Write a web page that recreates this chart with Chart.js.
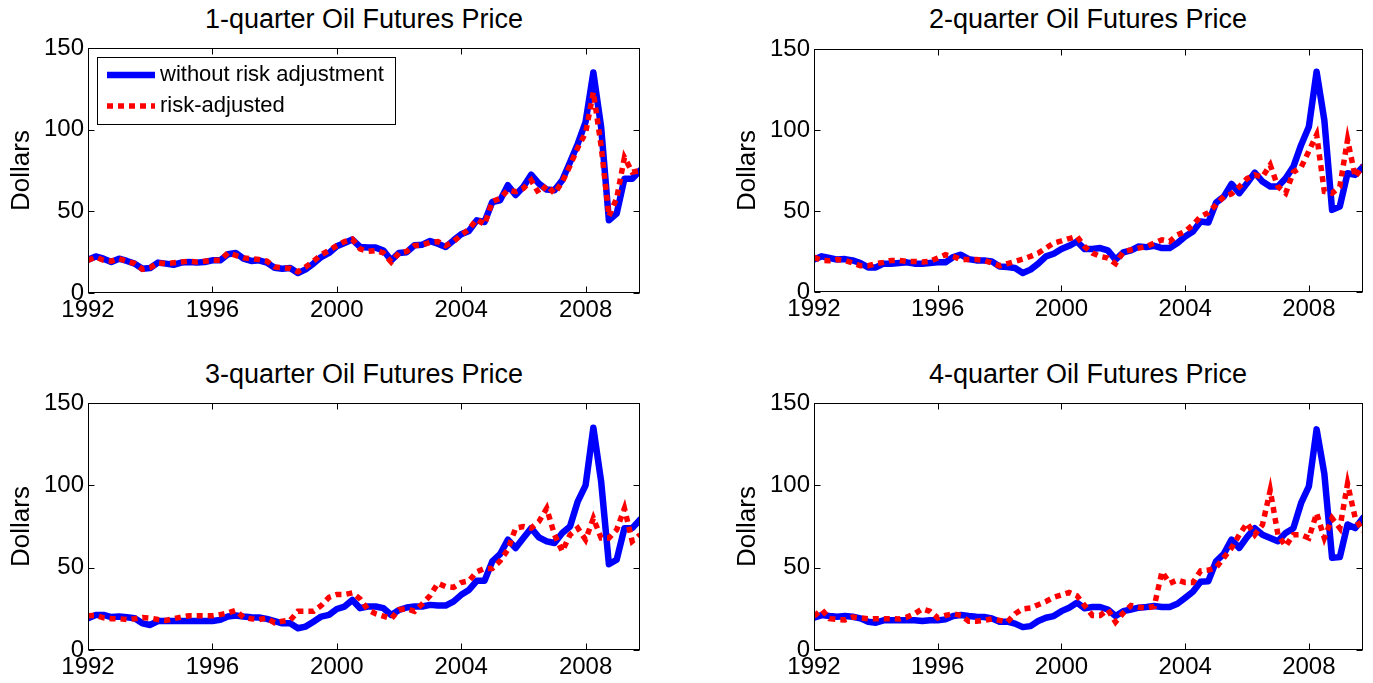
<!DOCTYPE html>
<html>
<head>
<meta charset="utf-8">
<script src="https://cdn.jsdelivr.net/npm/chart.js@4.4.1/dist/chart.umd.min.js"></script>
<style>
  html, body { margin: 0; padding: 0; background: #fff; }
  body { width: 1373px; height: 683px; position: relative; overflow: hidden; }
  canvas { position: absolute; }
  .ttl { position: absolute; font-family: 'Liberation Sans', Arial, sans-serif; font-size: 27px; line-height: 27px; color: #000; white-space: nowrap; text-align: center; width: 600px; }
</style>
</head>
<body>
<div class="ttl" id="t1" style="left:64px; top:6px;">1-quarter Oil Futures Price</div>
<div class="ttl" id="t2" style="left:788px; top:6px;">2-quarter Oil Futures Price</div>
<div class="ttl" id="t3" style="left:64px; top:361px;">3-quarter Oil Futures Price</div>
<div class="ttl" id="t4" style="left:788px; top:361px;">4-quarter Oil Futures Price</div>
<canvas id="c1" width="686" height="340" style="left:0px; top:0px;"></canvas>
<canvas id="c2" width="647" height="340" style="left:726px; top:0px;"></canvas>
<canvas id="c3" width="686" height="328" style="left:0px; top:355px;"></canvas>
<canvas id="c4" width="647" height="328" style="left:726px; top:355px;"></canvas>
<script>
// ---------- data ----------
const quarters = [
 '1992Q1','1992Q2','1992Q3','1992Q4','1993Q1','1993Q2','1993Q3','1993Q4',
 '1994Q1','1994Q2','1994Q3','1994Q4','1995Q1','1995Q2','1995Q3','1995Q4',
 '1996Q1','1996Q2','1996Q3','1996Q4','1997Q1','1997Q2','1997Q3','1997Q4',
 '1998Q1','1998Q2','1998Q3','1998Q4','1999Q1','1999Q2','1999Q3','1999Q4',
 '2000Q1','2000Q2','2000Q3','2000Q4','2001Q1','2001Q2','2001Q3','2001Q4',
 '2002Q1','2002Q2','2002Q3','2002Q4','2003Q1','2003Q2','2003Q3','2003Q4',
 '2004Q1','2004Q2','2004Q3','2004Q4','2005Q1','2005Q2','2005Q3','2005Q4',
 '2006Q1','2006Q2','2006Q3','2006Q4','2007Q1','2007Q2','2007Q3','2007Q4',
 '2008Q1','2008Q2','2008Q3','2008Q4','2009Q1','2009Q2','2009Q3','2009Q4'
];
const tickYears = ['1992','1996','2000','2004','2008'];
const yTicks = [0, 50, 100, 150];

const futures1 = [20.4,22.4,21,19,21,19.6,18,14.9,15.3,18.6,18,17.3,18.6,19,18.6,19,
 20,20,23.7,24.5,21,19.6,20,18.6,15.5,14.9,15.3,12.2,14.5,18,22,24.5,
 28.6,30.6,32.7,28.2,27.8,27.8,26,20,24.5,25,29.2,29.6,31.8,30.2,28.2,32.2,
 36,38,44.5,43.5,55.7,56.7,66,60,65,72.4,67,63.3,62.9,69,80,91.4,104.7,135,101.6,44.5,48.6,70,70,75];
const riskAdj1 = [20,22,20,19.5,21,19.5,18,14.5,15.5,18.5,18,18.5,19,19.5,19,19.5,
 20,20,24.5,23,21.5,21,20.5,19.5,16,15.5,15,13,16,19.5,23.5,26,
 29,31.5,33,27,25.5,26,24.5,19,24.5,25.5,29,29.5,31,31.5,29,31.5,
 35.5,39,45,42,56,58,63,62,64,69,61,66,61,68,78,89,98,123,90,47,58,83,74,75];

const futures2 = [20,22,21,20,20.3,19.5,17.9,15.2,15.2,17.5,17.5,17.9,18.3,17.5,17.5,17.9,
 18.3,18.3,21.6,23,20.3,19.5,19.5,18.9,15.8,15.4,14.8,11.7,13.8,17.5,22,23.6,
 26.5,28.5,31.2,26.5,26.5,27.1,25.7,20,24.4,25.7,28.1,27.7,28.5,27.1,27.1,30.2,
 34.3,37.4,43.5,42.9,55.2,58.9,66.7,61,67.1,73.7,68.2,65.1,65.1,70.2,77.4,90.8,102,136,106,50.7,52.8,73.3,72.3,77.4];
const riskAdj2 = [21.4,19.5,19.3,20,19.5,17.9,16.2,16.2,17.5,18.3,19.5,19.5,18.9,18.9,18.5,18.9,
 21,23,22,20,20,20,19.5,17.9,16.2,17.5,18.9,20.3,22,24,27.1,30.2,
 31.5,33,34.3,28,24,22,21,17.5,24.8,26,27.1,28.1,30.2,32.2,31.2,35.3,
 37.4,41.5,46.6,49,53.8,59,60.6,65,70,72.3,71,78.4,65,61,74,77,87,97,62,61,65,94,71,78];

const futures3 = [19.3,21.3,21.3,20,20.3,19.9,19.3,16.2,15.2,17.6,17.6,17.6,17.6,17.6,17.6,17.6,
 17.6,18.3,20.3,20.9,20.3,19.9,19.7,18.9,17.6,16.2,16.2,13.2,14.2,17.2,20.3,21.3,
 24.9,26.4,30.4,25.4,26.4,26.4,25.4,21.3,24.3,25.8,26.4,26.4,27.4,27,27,29.4,
 33.5,36.5,42,42,53.8,58.2,67,61.9,68,74,68.4,66,65,71,75,90.3,100,135,102.4,52.1,54.8,74,74,79.1];
const riskAdj3 = [20.8,21,19.5,19,19,18.5,19,19.8,19.4,18.5,18,19,20,20.8,20.8,20.8,
 20.8,21.5,22.5,24,19.8,19,18.5,19.4,16.5,17.5,18,23.5,23.5,23.5,27,32,
 33.7,33.7,34.7,31,24.5,22,20.5,19,24.5,25,23.5,28,33,40.5,38.5,38,
 41,42,47.5,49.5,49.5,54,61,74,75,74,78,86,70,60,70,74,67,80,68,68,73,86,66,70];

const futures4 = [19.6,21.2,20.6,20.2,20.6,20.2,19.2,17.2,16.6,18,18,18,18,18,17.6,18,
 18,18.6,20.6,21.2,20.6,20.2,20,19.2,17.2,17.2,16,13.9,14.5,17.6,19.6,20.6,
 23.6,25.7,28.7,25.3,26.1,26.1,24.6,20.6,23.6,24.6,25.7,26.1,26.7,26.1,26.1,28.1,
 31.7,35.4,41.4,41.8,53.9,58.4,67,62,68.5,74,70,68,66,71.1,74,89.3,99.4,134,107,56,56.4,76.2,74,80.2];
const riskAdj4 = [20.5,24.5,19,18.5,18.3,20,19.5,19,19,19,19,18.8,20,22,25,23.5,
 19.5,21,22,21,17.5,17.5,18,18.8,18,17,22,25,25.5,27.5,29.5,32,
 33.5,35,33,27,21,21,24.5,17,22.5,27,26,25.5,26.5,47.5,40.5,42.5,
 41,41,48,48.5,50,56,62,70,77,70,76,97,70,63,70,70,68,83,68,80,74,101,80,72];

const seriesNames = ['without risk adjustment', 'risk-adjusted'];

// ---------- helpers ----------
const FONT = "'Liberation Sans', Arial, Helvetica, sans-serif";

const framePlugin = {
  id: 'matlabFrame',
  afterDraw(chart, args, opts) {
    const {ctx, chartArea: ca, scales} = chart;
    ctx.save();
    ctx.strokeStyle = '#000';
    ctx.lineWidth = 1;
    const L = Math.round(ca.left) + 0.5, R = Math.round(ca.right) - 0.5;
    const T = Math.round(ca.top) + 0.5, B = Math.round(ca.bottom) - 0.5;
    ctx.strokeRect(L, T, R - L, B - T);
    const tl = 6;
    ctx.beginPath();
    quarters.forEach((q, i) => {
      if (q.endsWith('Q1') && tickYears.includes(q.slice(0, 4))) {
        const x = Math.round(scales.x.getPixelForValue(i)) + 0.5;
        ctx.moveTo(x, B); ctx.lineTo(x, B - tl);
        ctx.moveTo(x, T); ctx.lineTo(x, T + tl);
      }
    });
    yTicks.forEach(v => {
      const y = Math.round(scales.y.getPixelForValue(v)) + 0.5;
      ctx.moveTo(L, y); ctx.lineTo(L + tl, y);
      ctx.moveTo(R, y); ctx.lineTo(R - tl, y);
    });
    ctx.stroke();

    if (opts && opts.legend) {
      const ds = chart.data.datasets;
      const bx = ca.left + 9, by = ca.top + 9, bw = 298, bh = 67;
      ctx.fillStyle = '#fff';
      ctx.fillRect(bx, by, bw, bh);
      ctx.strokeRect(Math.round(bx) + 0.5, Math.round(by) + 0.5, bw, bh);
      const rows = [by + 18, by + 49];
      ds.forEach((d, k) => {
        const y = rows[k];
        ctx.beginPath();
        ctx.strokeStyle = d.borderColor;
        ctx.lineWidth = d.borderWidth;
        ctx.setLineDash(d.borderDash || []);
        ctx.lineCap = 'butt';
        ctx.moveTo(bx + 10, y); ctx.lineTo(bx + 58, y);
        ctx.stroke();
        ctx.setLineDash([]);
        ctx.fillStyle = '#000';
        ctx.font = '22px ' + FONT;
        ctx.textAlign = 'left';
        ctx.textBaseline = 'middle';
        ctx.fillText(d.label, bx + 63, y);
      });
    }
    ctx.restore();
  }
};

function makeChart(id, blue, red, cfg) {
  return new Chart(document.getElementById(id), {
    type: 'line',
    data: {
      labels: quarters,
      datasets: [
        { label: seriesNames[0], data: blue, borderColor: '#0000ff', backgroundColor: '#0000ff',
          borderWidth: 6.5, pointRadius: 0, tension: 0, borderJoinStyle: 'round', borderCapStyle: 'round',
          fill: false, order: 1, clip: 0 },
        { label: seriesNames[1], data: red, borderColor: '#ff0000', backgroundColor: '#ff0000',
          borderWidth: 5.5, borderDash: [6, 5], pointRadius: 0, tension: 0, borderCapStyle: 'butt',
          fill: false, order: 0, clip: 0 }
      ]
    },
    options: {
      responsive: false,
      animation: false,
      events: [],
      layout: { padding: { top: cfg.top, left: 0, right: cfg.right, bottom: 0 } },
      plugins: {
        legend: { display: false },
        title: { display: false },
        tooltip: { enabled: false },
        matlabFrame: { legend: !!cfg.legend }
      },
      scales: {
        x: {
          type: 'category',
          offset: false,
          grid: { display: false, drawTicks: false },
          border: { display: false },
          ticks: {
            autoSkip: false, maxRotation: 0, minRotation: 0, padding: 3, color: '#000',
            font: { family: FONT, size: 24 },
            callback: (v, i) => (quarters[i].endsWith('Q1') && tickYears.includes(quarters[i].slice(0, 4))) ? quarters[i].slice(0, 4) : null
          },
          afterFit: s => { s.height = cfg.xh; }
        },
        y: {
          min: 0, max: 150,
          afterBuildTicks: s => { s.ticks = yTicks.map(v => ({ value: v })); },
          grid: { display: false, drawTicks: false },
          border: { display: false },
          ticks: { padding: 4, color: '#000', font: { family: FONT, size: 24 } },
          title: { display: true, text: 'Dollars', color: '#000', font: { family: FONT, size: 26 }, padding: { top: 5.8, bottom: 0 } },
          afterFit: s => { s.width = 88; }
        }
      }
    },
    plugins: [framePlugin]
  });
}

makeChart('c1', futures1, riskAdj1, { top: 48, right: 46, xh: 47, legend: true });
makeChart('c2', futures2, riskAdj2, { top: 49, right: 10, xh: 48 });
makeChart('c3', futures3, riskAdj3, { top: 48, right: 46, xh: 33 });
makeChart('c4', futures4, riskAdj4, { top: 48, right: 10, xh: 33 });
</script>
</body>
</html>
